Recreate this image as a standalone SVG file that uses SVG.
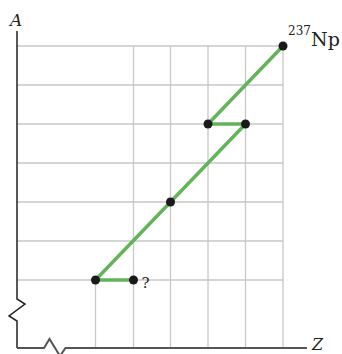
<svg xmlns="http://www.w3.org/2000/svg" width="342" height="354" viewBox="0 0 342 354">
<style>
.grid{stroke:#c8c8c8;stroke-width:1.3;fill:none}
.axis{stroke:#222;stroke-width:1.5;fill:none;stroke-linejoin:miter}
.xaxis{stroke:#555;stroke-width:2;fill:none}
.path{stroke:#63b35a;stroke-width:3.5;fill:none;stroke-linejoin:round}
.dot{fill:#1a1a1a}
.lbl{font-family:"DejaVu Serif","Liberation Serif",serif;fill:#222}
</style>
<rect width="342" height="354" fill="#fff"/>
<g id="grid">
<path class="grid" d="M17 46H283M17 85H283M17 124H283M17 163H283M17 202H283M17 241H283M17 280H283"/>
<path class="grid" d="M95.5 280V348M133.5 46V348M170.5 46V348M208 46V348M245.5 46V348M283 46V348"/>
</g>
<g id="axes">
<path class="axis" d="M17 31V299L25 304L9 316L17 321V348"/>
<path class="xaxis" d="M17 348H44L49.5 339L60 356L65.5 348H307"/>
<text class="lbl" x="10" y="26" font-size="17" font-style="italic">A</text>
<text class="lbl" x="312" y="350" font-size="16" font-style="italic">Z</text>
</g>
<g id="connectors">
<path class="path" d="M283 46L208 124H245.5L170.5 202L95.5 280H133.5"/>
</g>
<g id="np237">
<circle class="dot" cx="283" cy="46" r="4.5"/>
<text class="lbl" x="288" y="35" font-size="12">237</text>
<text class="lbl" x="311" y="46" font-size="19">Np</text>
</g>
<g id="n1"><circle class="dot" cx="208" cy="124" r="4.5"/></g>
<g id="n2"><circle class="dot" cx="245.5" cy="124" r="4.5"/></g>
<g id="n3"><circle class="dot" cx="170.5" cy="202" r="4.5"/></g>
<g id="n4"><circle class="dot" cx="95.5" cy="280" r="4.5"/></g>
<g id="n5">
<circle class="dot" cx="133.5" cy="280" r="4.5"/>
<text class="lbl" x="141.5" y="288" font-size="15">?</text>
</g>
</svg>
